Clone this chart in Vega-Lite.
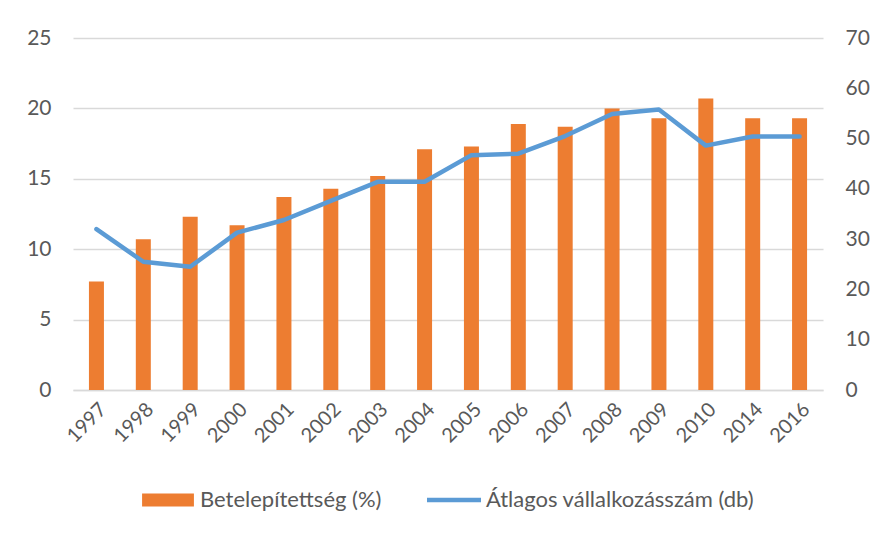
{
  "$schema": "https://vega.github.io/schema/vega-lite/v6.json",
  "width": 750,
  "height": 352,
  "autosize": {"type": "none"},
  "padding": {"left": 73, "top": 38, "right": 52, "bottom": 143},
  "background": "white",
  "config": {
    "view": {"stroke": null},
    "font": "Lato",
    "axis": {"labelFont": "Lato", "labelColor": "#595959", "labelFontSize": 21, "titleFontSize": 0},
    "legend": {"labelFont": "Lato"}
  },
  "data": {
    "values": [
      {"year": "1997", "bete": 7.7, "atl": 32.0},
      {"year": "1998", "bete": 10.7, "atl": 25.5},
      {"year": "1999", "bete": 12.3, "atl": 24.5},
      {"year": "2000", "bete": 11.7, "atl": 31.3},
      {"year": "2001", "bete": 13.7, "atl": 33.8},
      {"year": "2002", "bete": 14.3, "atl": 37.6},
      {"year": "2003", "bete": 15.2, "atl": 41.4},
      {"year": "2004", "bete": 17.1, "atl": 41.4},
      {"year": "2005", "bete": 17.3, "atl": 46.7},
      {"year": "2006", "bete": 18.9, "atl": 47.0},
      {"year": "2007", "bete": 18.7, "atl": 50.5},
      {"year": "2008", "bete": 20.0, "atl": 54.9},
      {"year": "2009", "bete": 19.3, "atl": 55.8},
      {"year": "2010", "bete": 20.7, "atl": 48.6},
      {"year": "2014", "bete": 19.3, "atl": 50.4},
      {"year": "2016", "bete": 19.3, "atl": 50.4}
    ]
  },
  "encoding": {
    "x": {
      "field": "year",
      "type": "ordinal",
      "title": null,
      "scale": {"paddingInner": 0, "paddingOuter": 0},
      "axis": {
        "labelAngle": -45,
        "ticks": false,
        "domainColor": "#D9D9D9",
        "domainWidth": 1.5,
        "labelPadding": 9,
        "labelFontSize": 20
      }
    }
  },
  "layer": [
    {
      "mark": {"type": "bar", "size": 15},
      "encoding": {
        "y": {
          "field": "bete",
          "type": "quantitative",
          "title": null,
          "scale": {"domain": [0, 25], "nice": false},
          "axis": {
            "values": [0, 5, 10, 15, 20, 25],
            "domain": false,
            "ticks": false,
            "grid": true,
            "gridColor": "#D9D9D9",
            "gridWidth": 1.5,
            "labelPadding": 22
          }
        },
        "color": {
          "datum": "Betelepítettség (%)",
          "scale": {
            "domain": ["Betelepítettség (%)", "Átlagos vállalkozásszám (db)"],
            "range": ["#ED7D31", "#5B9BD5"]
          },
          "legend": {
            "title": null,
            "orient": "none",
            "legendX": 68,
            "legendY": 435,
            "direction": "horizontal",
            "labelFontSize": 22,
            "labelLimit": 500,
            "labelColor": "#595959",
            "symbolSize": 2916,
            "symbolStrokeWidth": 0,
            "labelOffset": 5,
            "columnPadding": 45,
            "encode": {
              "symbols": {
                "update": {
                  "shape": {"signal": "datum.value === 'Betelepítettség (%)' ? 'M-0.96,-0.24H0.96V0.24H-0.96Z' : 'M-1,-0.08H1V0.08H-1Z'"},
                  "fill": {"scale": "color", "field": "value"},
                  "strokeWidth": {"value": 0}
                }
              }
            }
          }
        }
      }
    },
    {
      "mark": {"type": "line", "strokeWidth": 4.5, "strokeJoin": "round", "strokeCap": "round"},
      "encoding": {
        "y": {
          "field": "atl",
          "type": "quantitative",
          "title": null,
          "scale": {"domain": [0, 70], "nice": false},
          "axis": {
            "orient": "right",
            "values": [0, 10, 20, 30, 40, 50, 60, 70],
            "domain": false,
            "ticks": false,
            "grid": false,
            "labelPadding": 22
          }
        },
        "color": {"datum": "Átlagos vállalkozásszám (db)"}
      }
    }
  ],
  "resolve": {"scale": {"y": "independent"}}
}
